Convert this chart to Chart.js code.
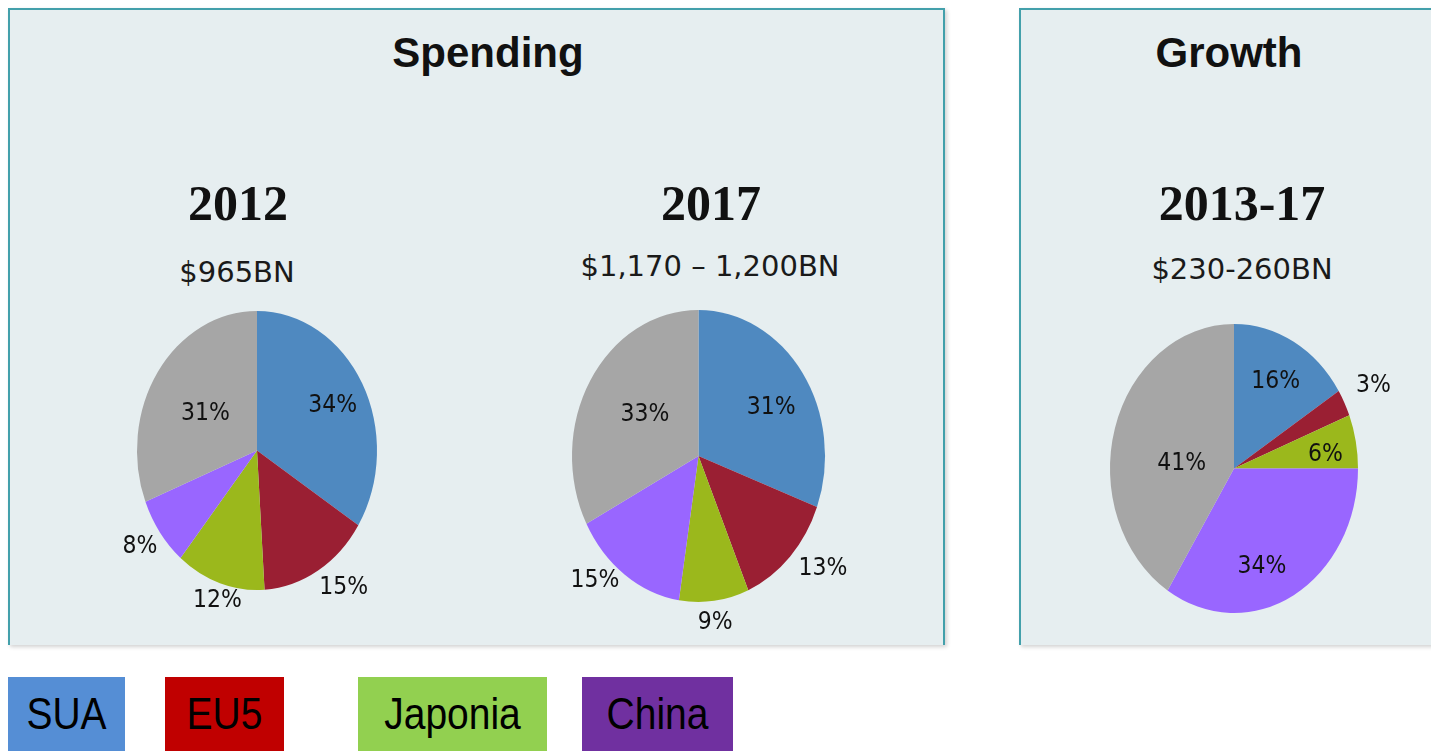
<!DOCTYPE html>
<html>
<head>
<meta charset="utf-8">
<script src="https://cdn.jsdelivr.net/npm/chart.js@4.4.1/dist/chart.umd.min.js"></script>
<style>
    html, body { margin: 0; padding: 0; background: #fff; }
    body { width: 1431px; height: 751px; position: relative; overflow: hidden; }
    .panel {
        position: absolute; box-sizing: border-box;
        background: #e6eef0; border: 2px solid #43a0ab;
        box-shadow: 2px 2px 4px rgba(0,0,0,0.18);
    }
    .title { position: absolute; font: bold 42px "Liberation Sans", sans-serif; line-height: 42px; color: #111; white-space: nowrap; transform: translateX(-50%); }
    .year { position: absolute; font: bold 50px "Liberation Serif", serif; line-height: 50px; color: #111; white-space: nowrap; transform: translateX(-50%); }
    .total { position: absolute; font: 29px "DejaVu Sans", sans-serif; line-height: 29px; color: #1a1a1a; white-space: nowrap; transform: translateX(-50%); }
    canvas { position: absolute; }
    .key { position: absolute; top: 677px; height: 74px; display: flex; align-items: center; justify-content: center; }
    .key span { font: 39px "Liberation Sans", sans-serif; color: #000; transform: scaleY(1.14); }
</style>
</head>
<body>
<div class="panel" style="left:8px; top:8px; width:937px; height:637px; border-bottom:none;"></div>
<div class="panel" style="left:1019px; top:8px; width:430px; height:637px; border-bottom:none; border-right:none;"></div>

<div class="title" style="left:488px; top:32px;">Spending</div>
<div class="title" style="left:1229px; top:32px;">Growth</div>

<div id="legend"></div>

<script>
// categorii si culori
const categories = ['SUA', 'EU5', 'Japonia', 'China', 'Altele'];
const colors = ['#4f89c0', '#9a1f33', '#9bb81c', '#9966ff', '#a6a6a6'];
const legendColors = ['#558ed5', '#c00000', '#92d050', '#7030a0'];

// valori (%)
const spending2012 = [34, 15, 12, 8, 31];
const spending2017 = [31, 13, 9, 15, 33];
const growth1317 = [16, 3, 6, 34, 41];

// titluri
const years = ['2012', '2017', '2013-17'];
const totals = ['$965BN', '$1,170 \u2013 1,200BN', '$230-260BN'];

// plugin: pie eliptic + etichete procentuale
const ellipsePlugin = {
    id: 'ellipse',
    beforeDatasetsDraw(chart, args, opts) {
        const arc = chart.getDatasetMeta(0).data[0];
        const ctx = chart.ctx;
        ctx.save();
        ctx.translate(arc.x, arc.y);
        ctx.scale(1, opts.k);
        ctx.translate(-arc.x, -arc.y);
    },
    afterDatasetsDraw(chart, args, opts) {
        const ctx = chart.ctx;
        ctx.restore();
        const values = chart.data.datasets[0].data;
        ctx.font = '22px "DejaVu Sans", sans-serif';
        ctx.fillStyle = '#111';
        ctx.textAlign = 'center';
        ctx.textBaseline = 'middle';
        chart.getDatasetMeta(0).data.forEach((arc, i) => {
            const mid = (arc.startAngle + arc.endAngle) / 2;
            const dx = Math.cos(mid), dy = Math.sin(mid);
            const rx = arc.outerRadius, ry = rx * opts.k;
            const text = values[i] + '%';
            const pos = opts.labelPos[i];
            const nudge = opts.nudge[i];
            let x, y;
            if (pos === 'out') {
                const hw = ctx.measureText(text).width / 2;
                x = arc.x + dx * (rx + 6) + dx * hw;
                y = arc.y + dy * (ry + 6) + dy * 11;
            } else {
                x = arc.x + dx * rx * pos;
                y = arc.y + dy * ry * pos;
            }
            ctx.save();
            ctx.translate(x + nudge[0], y + nudge[1]);
            ctx.scale(1, 1.15);
            ctx.fillText(text, 0, 0);
            ctx.restore();
        });
    }
};

function makePie(values, cx, cy, rx, ry, labelPos, nudge) {
    const padX = 70, padY = 40;
    const w = Math.round(2 * rx + 2 * padX), h = Math.round(2 * ry + 2 * padY);
    const canvas = document.createElement('canvas');
    canvas.width = w;
    canvas.height = h;
    canvas.style.left = (cx - w / 2) + 'px';
    canvas.style.top = (cy - h / 2) + 'px';
    canvas.style.width = w + 'px';
    canvas.style.height = h + 'px';
    document.body.appendChild(canvas);
    return new Chart(canvas.getContext('2d'), {
        type: 'pie',
        data: {
            labels: categories,
            datasets: [{
                data: values,
                backgroundColor: colors,
                borderWidth: 0,
                hoverOffset: 0
            }]
        },
        options: {
            responsive: false,
            animation: false,
            events: [],
            layout: { padding: { left: padX, right: padX, top: padY, bottom: padY } },
            plugins: {
                legend: { display: false },
                tooltip: { enabled: false },
                ellipse: { k: ry / rx, labelPos: labelPos, nudge: nudge }
            }
        },
        plugins: [ellipsePlugin]
    });
}

function addText(cls, text, left, top) {
    const d = document.createElement('div');
    d.className = cls;
    d.textContent = text;
    d.style.left = left + 'px';
    d.style.top = top + 'px';
    document.body.appendChild(d);
}

// titluri pe pie
addText('year', years[0], 238, 178);
addText('year', years[1], 711, 178);
addText('year', years[2], 1242, 178);
addText('total', totals[0], 237, 258);
addText('total', totals[1], 710, 252);
addText('total', totals[2], 1242, 255);

makePie(spending2012, 257, 450.5, 120, 139.5,
    [0.71, 'out', 'out', 'out', 0.52],
    [[1, 3], [10, 2], [7, 1], [-1, 4], [0, 4]]);
makePie(spending2017, 698.5, 456, 126.5, 146,
    [0.66, 'out', 'out', 'out', 0.55],
    [[4, 6], [11, 0], [-2, 5], [-12, -8], [6, 0]]);
makePie(growth1317, 1234, 468.5, 124, 144.5,
    [0.7, 'out', 0.8, 0.62, 0.44],
    [[0, 2], [8, -10], [-6, 8], [-9, 19], [0, 13]]);

// legenda
const keyBoxes = [[8, 117], [165, 119], [358, 189], [582, 151]];
keyBoxes.forEach((b, i) => {
    const d = document.createElement('div');
    d.className = 'key';
    d.style.left = b[0] + 'px';
    d.style.width = b[1] + 'px';
    d.style.background = legendColors[i];
    const s = document.createElement('span');
    s.textContent = categories[i];
    d.appendChild(s);
    document.getElementById('legend').appendChild(d);
});
</script>
</body>
</html>
